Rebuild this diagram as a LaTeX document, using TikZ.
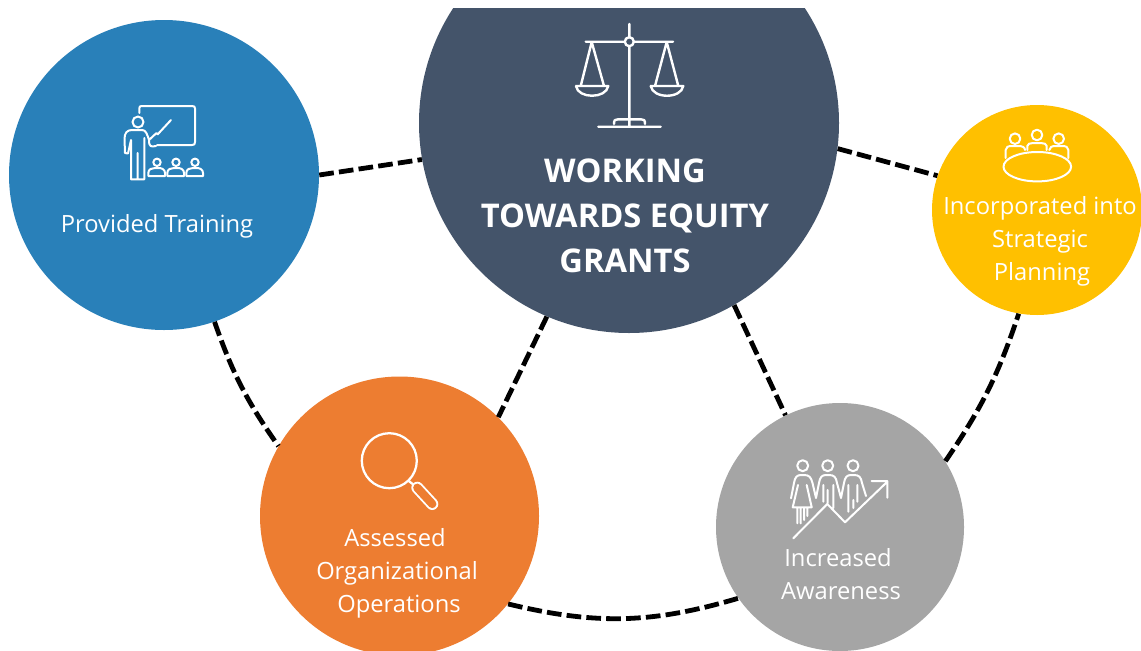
\documentclass[tikz,border=0pt]{standalone}
\usepackage{fontspec}
\setmainfont{Open Sans}
\definecolor{cBlue}{HTML}{2980B9}
\definecolor{cNavy}{HTML}{44546A}
\definecolor{cYellow}{HTML}{FFC000}
\definecolor{cOrange}{HTML}{ED7D31}
\definecolor{cGrey}{HTML}{A5A5A5}
\begin{document}
\begin{tikzpicture}[x=0.75pt,y=-0.75pt,
  disc/.style={circle,draw=none,inner sep=0pt,minimum size=#1*1.5pt},
  link/.style={draw=black,line width=3.6pt,dash pattern=on 11pt off 3.9pt},
  icon/.style={draw=white,line width=1.5pt,line cap=round,line join=round},
  lbl/.style={text=white,align=center,inner sep=0pt,font=\fontsize{17.8}{24.75}\selectfont},
  ttl/.style={text=white,align=center,inner sep=0pt,font=\fontsize{24.5}{33.75}\selectfont\bfseries}]
\useasboundingbox (0,0) rectangle (1141,650);
\fill[white] (0,0) rectangle (1141,650);
\clip (0,8) rectangle (1141,650);
% discs
\node[disc=155,fill=cBlue]   (train)  at (164,175) {};
\node[disc=210,fill=cNavy]   (equity) at (629,123) {};
\node[disc=105,fill=cYellow] (plan)   at (1037,210) {};
\node[disc=139.5,fill=cOrange] (assess) at (399.5,516) {};
\node[disc=124,fill=cGrey]   (aware)  at (840,527) {};
% connectors
\draw[link] (train.0) -- (equity.190.8);
\draw[link] (equity.353.7) -- (plan.161);
\draw[link] (equity.247.3) -- (assess.45.3);
\draw[link] (equity.300.2) -- (aware.116);
\draw[link] (train.289.1) to[bend right=8] (assess.150);
\draw[link] (assess.321) to[bend right=15] (aware.215);
\draw[link] (aware.32.5) to[bend right=8] (plan.260);
% labels
\node[lbl] (t1) at (157,226) {Provided Training};
\node[ttl] (t2) at (625,215.5) {WORKING\\TOWARDS EQUITY\\GRANTS};
\node[lbl] (t3) at (1040,241) {Incorporated into\\Strategic\\\hspace*{3pt}Planning};
\node[lbl] (t4) at (397,573) {Assessed\hspace*{3pt}\\Organizational\\\hspace*{3pt}Operations};
\node[lbl] (t5) at (840,574) {Increased\hspace*{3pt}\\\hspace*{1.5pt}Awareness};
% scales icon
\draw[icon,line width=1.8pt]
  (629.3,24) -- (629.3,37.2) (629.3,46.2) -- (629.3,126.7)
  (585.7,41.7) -- (624.8,41.7) (633.8,41.7) -- (673,41.7)
  (629.3,41.7) circle[radius=4.5]
  (591.7,42) -- (580.7,86) (591.7,42) -- (604,86)
  (666.7,42) -- (655,86) (666.7,42) -- (678.3,86)
  (576,86) -- (608.3,86) .. controls (606,99) and (578,99) .. (576,86)
  (650.7,86) -- (683.3,86) .. controls (681,99) and (653,99) .. (650.7,86)
  (598.3,126.7) -- (660.7,126.7)
  (614,124) .. controls (614,120) and (615,119.3) .. (618,119.3) -- (641,119.3) .. controls (644,119.3) and (645,120) .. (645,124);
% teacher icon
\draw[icon]
  (139.3,113) -- (139.3,108.5) .. controls (139.3,106.7) and (140,106) .. (141.5,106) -- (192,106) .. controls (194.3,106) and (195,106.7) .. (195,108.5) -- (195,142) .. controls (195,144.3) and (194.3,145) .. (192,145) -- (157,145)
  (138,122) circle[radius=5.5]
  (125,153) -- (124.5,139) .. controls (124.5,133) and (127,130) .. (132,130) -- (142,130) .. controls (146,130) and (147,134) .. (149,140) -- (156.5,133)
  (125,153) -- (128,153.5) -- (131,140)
  (131,140) -- (131,179.3) -- (144.3,179.3) -- (144.3,138)
  (137.7,153) -- (137.7,179.3)
  (149,140) .. controls (149,147) and (151,147) .. (156,146)
  (156.5,133) -- (158,134.5) (158,134) -- (171,120);
\foreach \dx/\nm in {0/a,19/b,38/c}{
  \draw[icon,xshift=\dx*0.75pt]
    (157,162.3) circle[radius=3.7]
    (148.3,176) -- (165,176) -- (165,173) .. controls (165,169) and (161,168) .. (159,168) -- (155,168) .. controls (152,168) and (148.3,169) .. (148.3,173) -- cycle;
}
% meeting icon
\draw[icon]
  (1037.3,166.7) ellipse[x radius=33.8,y radius=14.7]
  (1015,138.7) circle[radius=5.3]
  (1037,135) circle[radius=5.3]
  (1058.7,138.7) circle[radius=5.3]
  (1005.7,158) -- (1005.7,150) .. controls (1005.7,147) and (1008,146) .. (1012,146) -- (1018,146) .. controls (1022,146) and (1025,147) .. (1025,150)
  (1027.3,150) -- (1027.3,146) .. controls (1027.3,144) and (1030,143) .. (1033,143) -- (1041,143) .. controls (1044,143) and (1046.7,144) .. (1046.7,146) -- (1046.7,150)
  (1049.3,150) .. controls (1049.3,147) and (1052,146) .. (1056,146) -- (1062,146) .. controls (1066,146) and (1068.3,147) .. (1068.3,150) -- (1068.3,158);
% magnifier icon
\draw[icon,line width=1.7pt]
  (389.3,460.7) circle[radius=27.5]
  (408.3,480.7) -- (412.7,484);
\draw[line cap=round,draw=white,line width=9pt] (417.3,487.7) -- (432.3,504);
\draw[line cap=round,draw=cOrange,line width=6.2pt] (417.3,487.7) -- (432.3,504);
% people icon
\draw[icon]
  (802.7,465.7) circle[radius=5.5]
  (827.7,465.7) circle[radius=5.5]
  (853,465.7) circle[radius=5.5]
  (793.3,538.3) -- (827.3,504) -- (845,522.3) -- (887.3,481.7)
  (871.7,481) -- (887.3,481) -- (887.3,497.7)
  (791,498.3) -- (794,483) .. controls (795,477) and (797,475) .. (801,475) -- (804,475) .. controls (809,475) and (811,477) .. (812.5,483) -- (816,498)
  (798,485) -- (792.7,507.3) -- (811.7,507.3) -- (806.7,485)
  (797.3,507.3) -- (797.3,523.3) (800.7,507.3) -- (800.7,523.3)
  (804,507.3) -- (804,520) (807.3,507.3) -- (807.3,516)
  (816,498) -- (819,483) .. controls (820,477) and (822,475) .. (826,475) -- (829,475) .. controls (834,475) and (836,477) .. (837,483) -- (841,498)
  (841,498) -- (844,483) .. controls (845,477) and (847,475) .. (851,475) -- (854,475) .. controls (859,475) and (861,477) .. (862,483) -- (866,496)
  (823.3,485) -- (823.3,501.7) (827.5,490) -- (827.5,503)
  (833.3,485) -- (833.3,508)
  (848.3,485) -- (848.3,511.7) (853.3,500) -- (853.3,508) (857.3,485) -- (857.3,501.7);
\end{tikzpicture}
\end{document}
